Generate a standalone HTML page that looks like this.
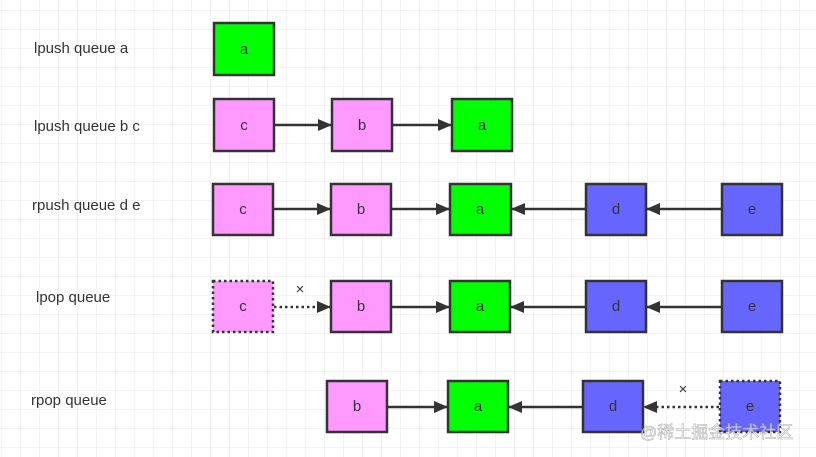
<!DOCTYPE html>
<html><head><style>
html,body{margin:0;padding:0;background:#fff}
svg{display:block}
text{font-family:"Liberation Sans",sans-serif;font-size:15px;fill:#333}
</style></head><body>
<svg width="816" height="457" viewBox="0 0 816 457" xmlns="http://www.w3.org/2000/svg">
<defs>
<pattern id="g" x="1" y="10" width="19" height="19" patternUnits="userSpaceOnUse">
<path d="M0 0H19M0 0V19" stroke="#e4e4e4" stroke-width="1" fill="none"/>
</pattern>
<marker id="ar" markerWidth="14" markerHeight="12" refX="13" refY="6" orient="auto" markerUnits="userSpaceOnUse">
<path d="M0 0L14 6L0 12Z" fill="#333"/>
</marker>
</defs>
<rect width="816" height="457" fill="url(#g)"/>
<g>
<text x="34" y="53">lpush queue a</text>
<text x="34" y="131">lpush queue b c</text>
<text x="32" y="210">rpush queue d e</text>
<text x="36" y="302">lpop queue</text>
<text x="31" y="405">rpop queue</text>
</g>
<g stroke="#333" stroke-width="2.5">
<rect x="214" y="23" width="60" height="52" fill="#00ff00"/>
<rect x="214" y="99" width="60" height="52" fill="#ff99ff"/>
<rect x="332" y="99" width="60" height="52" fill="#ff99ff"/>
<rect x="452" y="99" width="60" height="52" fill="#00ff00"/>
<line x1="274" y1="125" x2="331" y2="125" marker-end="url(#ar)"/>
<line x1="392" y1="125" x2="451" y2="125" marker-end="url(#ar)"/>
<rect x="213" y="184" width="60" height="51" fill="#ff99ff"/>
<rect x="331" y="184" width="60" height="51" fill="#ff99ff"/>
<rect x="450" y="184" width="61" height="51" fill="#00ff00"/>
<rect x="586" y="184" width="60" height="51" fill="#6666ff"/>
<rect x="722" y="184" width="60" height="51" fill="#6666ff"/>
<line x1="273" y1="209" x2="330" y2="209" marker-end="url(#ar)"/>
<line x1="391" y1="209" x2="449" y2="209" marker-end="url(#ar)"/>
<line x1="586" y1="209" x2="512" y2="209" marker-end="url(#ar)"/>
<line x1="722" y1="209" x2="647" y2="209" marker-end="url(#ar)"/>
<rect x="213" y="281" width="60" height="51" fill="#ff99ff" stroke-dasharray="2.5 3"/>
<rect x="331" y="281" width="60" height="51" fill="#ff99ff"/>
<rect x="450" y="281" width="60" height="51" fill="#00ff00"/>
<rect x="586" y="281" width="60" height="51" fill="#6666ff"/>
<rect x="722" y="281" width="60" height="51" fill="#6666ff"/>
<line x1="274" y1="307" x2="330" y2="307" stroke-dasharray="2.5 3" marker-end="url(#ar)"/>
<line x1="391" y1="307" x2="449" y2="307" marker-end="url(#ar)"/>
<line x1="586" y1="307" x2="511" y2="307" marker-end="url(#ar)"/>
<line x1="722" y1="307" x2="647" y2="307" marker-end="url(#ar)"/>
<rect x="327" y="381" width="60" height="51" fill="#ff99ff"/>
<rect x="448" y="381" width="60" height="51" fill="#00ff00"/>
<rect x="583" y="381" width="60" height="51" fill="#6666ff"/>
<rect x="720" y="381" width="60" height="51" fill="#6666ff" stroke-dasharray="2.5 3"/>
<line x1="387" y1="407" x2="447" y2="407" marker-end="url(#ar)"/>
<line x1="583" y1="407" x2="509" y2="407" marker-end="url(#ar)"/>
<line x1="719" y1="407" x2="644" y2="407" stroke-dasharray="2.5 3" marker-end="url(#ar)"/>
</g>
<g text-anchor="middle" style="font-size:15px">
<text x="244" y="54">a</text>
<text x="244" y="130">c</text><text x="362" y="130">b</text><text x="482" y="130">a</text>
<text x="243" y="214">c</text><text x="361" y="214">b</text><text x="480" y="214">a</text><text x="616" y="214">d</text><text x="752" y="214">e</text>
<text x="243" y="311">c</text><text x="361" y="311">b</text><text x="480" y="311">a</text><text x="616" y="311">d</text><text x="752" y="311">e</text>
<text x="357" y="411">b</text><text x="478" y="411">a</text><text x="613" y="411">d</text><text x="750" y="411">e</text>
<text x="300" y="294">×</text>
<text x="683" y="394">×</text>
</g>
<text x="640" y="438" style="font-family:'Liberation Sans','Noto Sans CJK SC',sans-serif;font-size:17px;fill:#fff;fill-opacity:0.6;stroke:#aaa;stroke-width:0.5">@稀土掘金技术社区</text>
</svg>
</body></html>
